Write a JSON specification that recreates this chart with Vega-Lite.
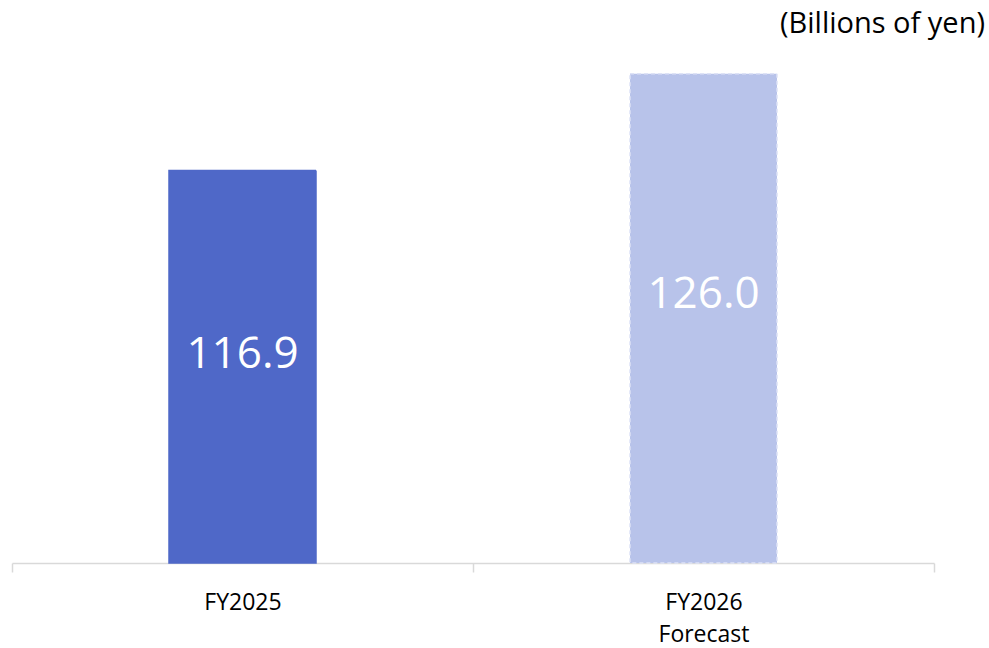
{
  "$schema": "https://vega.github.io/schema/vega-lite/v6.json",
  "width": 922,
  "height": 500,
  "autosize": {"type": "none"},
  "padding": {"left": 12, "top": 63, "right": 55, "bottom": 85},
  "background": "white",
  "config": {"view": {"stroke": null}, "font": "Open Sans"},
  "title": {
    "text": "(Billions of yen)",
    "anchor": "end",
    "frame": "group",
    "orient": "top",
    "dx": 51,
    "offset": 24,
    "fontSize": 29,
    "fontWeight": "normal",
    "color": "#000000",
    "font": "Open Sans"
  },
  "data": {
    "values": [
      {"period": "FY2025", "value": 116.9, "type": "Actual"},
      {"period": "FY2026 Forecast", "value": 126.0, "type": "Forecast"}
    ]
  },
  "transform": [
    {"calculate": "27.7 + 0.615 * datum.value", "as": "labelPos"}
  ],
  "encoding": {
    "x": {
      "field": "period",
      "type": "nominal",
      "sort": null,
      "scale": {"paddingInner": 0, "paddingOuter": 0},
      "axis": {
        "title": null,
        "labelAngle": 0,
        "tickBand": "extent",
        "domainColor": "#d9d9d9",
        "domainWidth": 1.5,
        "tickColor": "#d9d9d9",
        "tickWidth": 1.5,
        "tickSize": 9,
        "labelPadding": 19,
        "labelFontSize": 23,
        "labelColor": "#000000",
        "labelFont": "Open Sans",
        "labelLineHeight": 32,
        "labelExpr": "split(datum.label, ' ')"
      }
    }
  },
  "layer": [
    {
      "mark": {"type": "bar", "width": 147, "strokeWidth": 1.5},
      "encoding": {
        "y": {
          "field": "value",
          "type": "quantitative",
          "scale": {"domain": [80, 127], "zero": false, "nice": false},
          "axis": null
        },
        "y2": {"datum": 80},
        "color": {
          "field": "type",
          "type": "nominal",
          "scale": {"domain": ["Actual", "Forecast"], "range": ["#4f68c8", "#b8c3ea"]},
          "legend": null
        },
        "stroke": {
          "field": "type",
          "type": "nominal",
          "scale": {"domain": ["Actual", "Forecast"], "range": ["#4f68c8", "#dde2f6"]},
          "legend": null
        },
        "strokeDash": {
          "field": "type",
          "type": "nominal",
          "scale": {"domain": ["Actual", "Forecast"], "range": [[1, 0], [4, 3]]},
          "legend": null
        }
      }
    },
    {
      "mark": {"type": "text", "color": "white", "fontSize": 44, "baseline": "middle", "align": "center", "font": "Open Sans"},
      "encoding": {
        "y": {"field": "labelPos", "type": "quantitative", "scale": {"domain": [80, 127], "zero": false, "nice": false}, "axis": null},
        "text": {"field": "value", "type": "quantitative", "format": ".1f"}
      }
    }
  ]
}
